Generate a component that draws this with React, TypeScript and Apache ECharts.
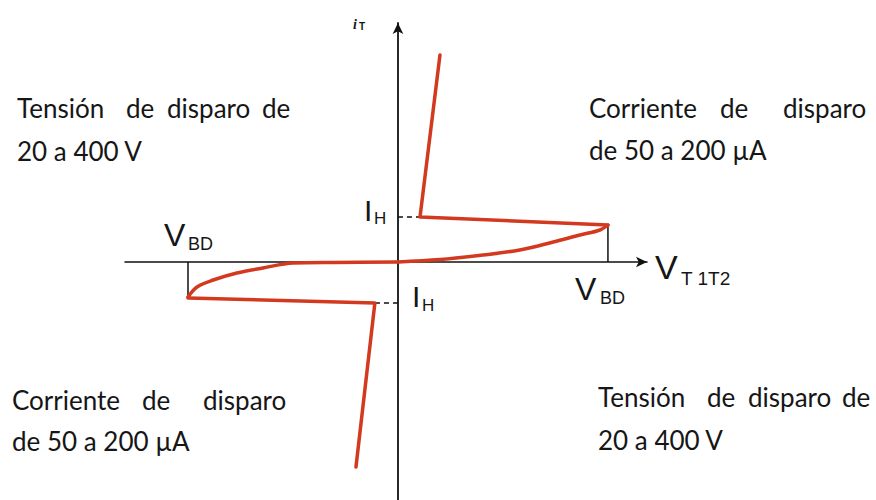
import React, { useEffect, useRef } from "react";
import * as echarts from "echarts";

// Normalised units: x in multiples of V_BD, y in multiples of ~I_H
// Forward (first quadrant) branch
const fwdCurveX = [0, 0.2, 0.405, 0.58, 0.74, 0.867, 0.962, 1.0];
const fwdCurveY = [0, 0.06, 0.175, 0.3, 0.5, 0.675, 0.8, 0.925];
const fwdOnX = [1.0, 0.105, 0.2];
const fwdOnY = [0.925, 1.125, 5.175];
// Reverse (third quadrant) branch
const revCurveX = [0, -0.3, -0.5, -0.643, -0.767, -0.88, -0.957, -1.0];
const revCurveY = [0, -0.01, -0.025, -0.15, -0.275, -0.45, -0.625, -0.875];
const revOnX = [-1.0, -0.11, -0.2];
const revOnY = [-0.9, -1.025, -5.125];
// Breakover markers and holding-current markers
const vbdMarkerX = [1.0, -1.0];
const vbdMarkerY = [0.925, -0.9];
const holdX = [0.105, -0.11];
const holdY = [1.125, -1.025];

const textUL = [["Tensión", "de", "disparo", "de"], ["20 a 400 V"]];
const textUR = [["Corriente", "de", "disparo"], ["de 50 a 200 µA"]];
const textLL = [["Corriente", "de", "disparo"], ["de 50 a 200 µA"]];
const textLR = [["Tensión", "de", "disparo", "de"], ["20 a 400 V"]];

const RED = "#d3391e";
const TXT = "#161616";
const BODY_FONT = "Lato, 'Open Sans', sans-serif";
const SYM_FONT = "'Liberation Sans', Arial, sans-serif";

export default function App() {
  const ref = useRef<HTMLDivElement>(null);
  useEffect(() => {
    const chart = echarts.init(ref.current!, null, { renderer: "svg" });
    const pairs = (xs: number[], ys: number[]) => xs.map((x, i) => [x, ys[i]]);
    const redLine = (data: number[][], smooth: boolean) => ({
      type: "line",
      data,
      smooth: smooth ? 0.35 : false,
      symbol: "none",
      z: 3,
      lineStyle: { color: RED, width: 3.5, cap: "round", join: "round" },
    });
    const series: any[] = [
      redLine(pairs(fwdCurveX, fwdCurveY), true),
      redLine(pairs(fwdOnX, fwdOnY), false),
      redLine(pairs(revCurveX, revCurveY), true),
      redLine(pairs(revOnX, revOnY), false),
    ];
    vbdMarkerX.forEach((x, i) => {
      series.push({
        type: "line",
        data: [[x, 0], [x, vbdMarkerY[i]]],
        symbol: "none",
        z: 2,
        lineStyle: { color: "#111", width: 1.5 },
      });
    });
    holdX.forEach((x, i) => {
      series.push({
        type: "line",
        data: [[0, holdY[i]], [x, holdY[i]]],
        symbol: "none",
        z: 2,
        lineStyle: { color: "#111", width: 1.5, type: [5, 4] },
      });
    });

    const txt = (text: string, x: number, y: number, font: string, extra: any = {}) => ({
      type: "text",
      x,
      y,
      style: {
        text,
        font,
        fill: TXT,
        align: "left",
        verticalAlign: "middle",
        ...extra,
      },
    });

    const wordLine = (words: string[], xs: number[], y: number) =>
      words.map((w, i) => txt(w, xs[i], y, `26px ${BODY_FONT}`));

    const g: any[] = [
      ...wordLine(textUL[0], [17, 126, 167, 262], 108),
      ...wordLine(textUL[1], [17], 151),
      ...wordLine(textUR[0], [589, 720, 783], 108),
      ...wordLine(textUR[1], [589], 150),
      ...wordLine(textLL[0], [12, 142, 203], 400),
      ...wordLine(textLL[1], [12], 441),
      ...wordLine(textLR[0], [598, 707, 748, 842], 397),
      ...wordLine(textLR[1], [598], 440),
      // V_BD left
      txt("V", 164, 235, `32px ${SYM_FONT}`),
      txt("BD", 188, 244, `18px ${SYM_FONT}`),
      // V_BD right
      txt("V", 575, 289, `32px ${SYM_FONT}`),
      txt("BD", 600, 298, `18px ${SYM_FONT}`),
      // V_T1T2
      txt("V", 655, 267, `34px ${SYM_FONT}`),
      txt("T 1T2", 681, 278, `19px ${SYM_FONT}`),
      // I_H upper
      txt("I", 364, 210, `30px ${SYM_FONT}`),
      txt("H", 374, 218, `17px ${SYM_FONT}`),
      // I_H lower
      txt("I", 412, 296, `30px ${SYM_FONT}`),
      txt("H", 422, 305, `17px ${SYM_FONT}`),
      // i_T
      txt("i", 353, 24, `italic bold 14px 'Liberation Serif', serif`),
      txt("T", 359, 26, `bold 10px ${SYM_FONT}`),
    ];

    chart.setOption({
      animation: false,
      grid: { left: 125, right: 229, top: 23, bottom: 0, containLabel: false },
      xAxis: {
        type: "value",
        min: -1.3,
        max: 1.186,
        axisLine: {
          show: true,
          onZero: true,
          lineStyle: { color: "#111", width: 1.5 },
          symbol: ["none", "arrow"],
          symbolSize: [8, 11],
        },
        axisTick: { show: false },
        axisLabel: { show: false },
        splitLine: { show: false },
      },
      yAxis: {
        type: "value",
        min: -5.95,
        max: 5.975,
        axisLine: {
          show: true,
          onZero: true,
          lineStyle: { color: "#111", width: 1.8 },
          symbol: ["none", "arrow"],
          symbolSize: [8, 11],
        },
        axisTick: { show: false },
        axisLabel: { show: false },
        splitLine: { show: false },
      },
      series,
      graphic: g,
    });
    return () => chart.dispose();
  }, []);
  return (
    <div
      ref={ref}
      style={{ position: "absolute", left: 0, top: 0, width: 876, height: 500, background: "#fff" }}
    />
  );
}
